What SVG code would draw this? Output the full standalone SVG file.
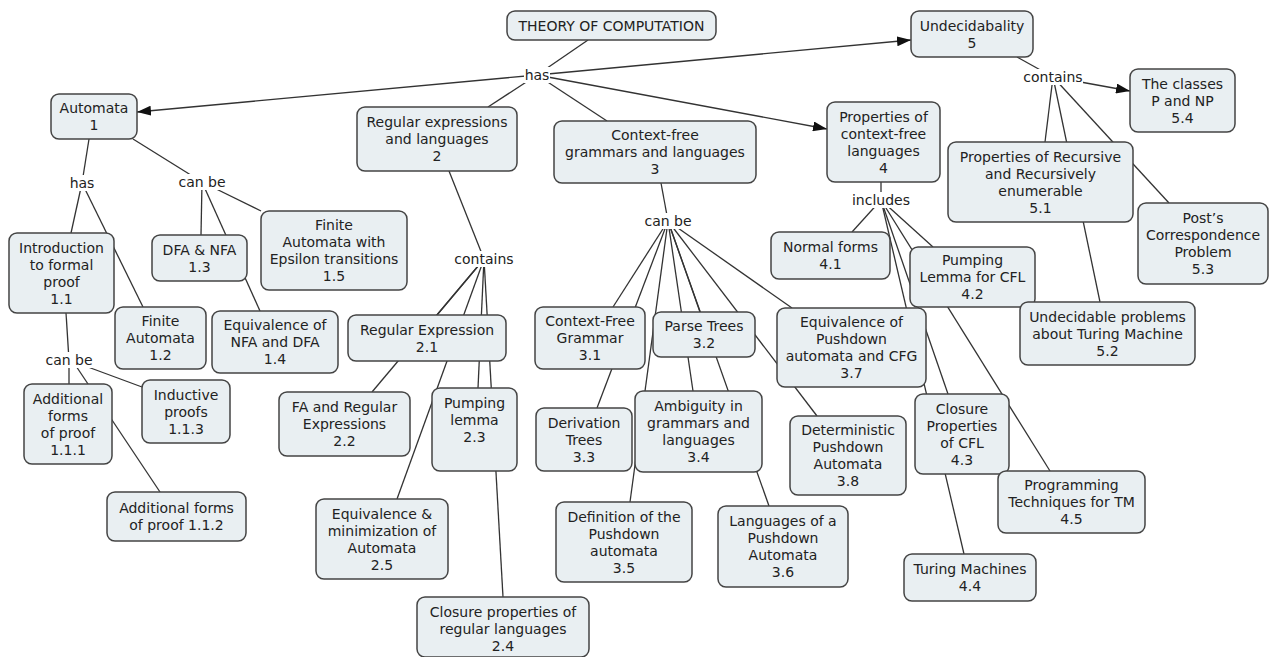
<svg xmlns="http://www.w3.org/2000/svg" width="1273" height="657" viewBox="0 0 1273 657">
<defs>
<marker id="arr" viewBox="0 0 14 10" refX="14" refY="5" markerWidth="14" markerHeight="10" markerUnits="userSpaceOnUse" orient="auto"><path d="M0,0 L14,5 L0,10 z" fill="#111"/></marker>
<style>
.c{stroke:#333;stroke-width:1.3;fill:none}
.b{fill:#e9eff2;stroke:#444;stroke-width:1.5}
text{font-family:"DejaVu Sans",Verdana,sans-serif;font-size:14px;fill:#222;text-anchor:middle}
.lb{fill:#fff}
</style>
</defs>
<rect width="1273" height="657" fill="#fff"/>
<g id="connectors">
<line class="c" x1="588" y1="40" x2="537" y2="75"/>
<line class="c" x1="537" y1="75" x2="137" y2="112" marker-end="url(#arr)"/>
<line class="c" x1="537" y1="75" x2="488" y2="107"/>
<line class="c" x1="537" y1="75" x2="607" y2="121"/>
<line class="c" x1="537" y1="75" x2="827" y2="129" marker-end="url(#arr)"/>
<line class="c" x1="537" y1="75" x2="911" y2="40" marker-end="url(#arr)"/>
<line class="c" x1="89" y1="139" x2="82" y2="183"/>
<line class="c" x1="82" y1="183" x2="71" y2="233"/>
<line class="c" x1="82" y1="183" x2="143" y2="307"/>
<line class="c" x1="133" y1="139" x2="202" y2="182"/>
<line class="c" x1="202" y1="182" x2="201" y2="235"/>
<line class="c" x1="202" y1="182" x2="260" y2="311"/>
<line class="c" x1="202" y1="182" x2="261" y2="211"/>
<line class="c" x1="66" y1="313" x2="69" y2="360"/>
<line class="c" x1="69" y1="360" x2="69" y2="384"/>
<line class="c" x1="72" y1="360" x2="160" y2="492"/>
<line class="c" x1="69" y1="360" x2="142" y2="387"/>
<line class="c" x1="449" y1="171" x2="484" y2="259"/>
<line class="c" x1="484" y1="259" x2="437" y2="315"/>
<line class="c" x1="484" y1="259" x2="372" y2="392"/>
<line class="c" x1="484" y1="259" x2="397" y2="499"/>
<line class="c" x1="484" y1="259" x2="478" y2="388"/>
<line class="c" x1="484" y1="259" x2="503" y2="597"/>
<line class="c" x1="661" y1="183" x2="668" y2="221"/>
<line class="c" x1="668" y1="221" x2="613" y2="307"/>
<line class="c" x1="668" y1="221" x2="597" y2="408"/>
<line class="c" x1="668" y1="221" x2="630" y2="502"/>
<line class="c" x1="668" y1="221" x2="693" y2="391"/>
<line class="c" x1="668" y1="221" x2="700" y2="312"/>
<line class="c" x1="668" y1="221" x2="769" y2="506"/>
<line class="c" x1="668" y1="221" x2="817" y2="416"/>
<line class="c" x1="668" y1="221" x2="792" y2="308"/>
<line class="c" x1="881" y1="182" x2="881" y2="200"/>
<line class="c" x1="881" y1="200" x2="852" y2="232"/>
<line class="c" x1="881" y1="200" x2="933" y2="247"/>
<line class="c" x1="881" y1="200" x2="948" y2="394"/>
<line class="c" x1="881" y1="200" x2="964" y2="554"/>
<line class="c" x1="881" y1="200" x2="1050" y2="471"/>
<line class="c" x1="1017" y1="57" x2="1053" y2="77"/>
<line class="c" x1="1053" y1="77" x2="1130" y2="91" marker-end="url(#arr)"/>
<line class="c" x1="1053" y1="77" x2="1045" y2="142"/>
<line class="c" x1="1053" y1="77" x2="1100" y2="302"/>
<line class="c" x1="1053" y1="77" x2="1169" y2="203"/>
</g>
<g id="link-has"><rect class="lb" x="524" y="67" width="26" height="16"/><text x="537" y="80">has</text></g>
<g id="link-has-1"><rect class="lb" x="69" y="175" width="26" height="16"/><text x="82" y="188">has</text></g>
<g id="link-canbe-1"><rect class="lb" x="178" y="174" width="48" height="16"/><text x="202" y="187">can be</text></g>
<g id="link-canbe-11"><rect class="lb" x="45" y="352" width="48" height="16"/><text x="69" y="365">can be</text></g>
<g id="link-contains-2"><rect class="lb" x="454" y="251" width="60" height="16"/><text x="484" y="264">contains</text></g>
<g id="link-canbe-3"><rect class="lb" x="644" y="213" width="48" height="16"/><text x="668" y="226">can be</text></g>
<g id="link-includes-4"><rect class="lb" x="852" y="192" width="58" height="16"/><text x="881" y="205">includes</text></g>
<g id="link-contains-5"><rect class="lb" x="1023" y="69" width="60" height="16"/><text x="1053" y="82">contains</text></g>

<g id="n0"><rect class="b" x="507" y="11" width="209" height="29" rx="8"/><text x="611.5" y="30.5">THEORY OF COMPUTATION</text></g>
<g id="n1"><rect class="b" x="51" y="94" width="86" height="45" rx="8"/><text x="94" y="113"><tspan x="94">Automata</tspan><tspan x="94" dy="17">1</tspan></text></g>
<g id="n1-1"><rect class="b" x="9" y="233" width="105" height="80" rx="8"/><text x="61.5" y="252.5"><tspan x="61.5">Introduction</tspan><tspan x="61.5" dy="17">to formal</tspan><tspan x="61.5" dy="17">proof</tspan><tspan x="61.5" dy="17">1.1</tspan></text></g>
<g id="n1-1-1"><rect class="b" x="24" y="384" width="88" height="80" rx="8"/><text x="68" y="403.5"><tspan x="68">Additional</tspan><tspan x="68" dy="17">forms</tspan><tspan x="68" dy="17">of proof</tspan><tspan x="68" dy="17">1.1.1</tspan></text></g>
<g id="n1-1-2"><rect class="b" x="107" y="492" width="139" height="49" rx="8"/><text x="176.5" y="513"><tspan x="176.5">Additional forms</tspan><tspan x="176.5" dy="17">of proof 1.1.2</tspan></text></g>
<g id="n1-1-3"><rect class="b" x="142" y="380" width="88" height="63" rx="8"/><text x="186" y="399.5"><tspan x="186">Inductive</tspan><tspan x="186" dy="17">proofs</tspan><tspan x="186" dy="17">1.1.3</tspan></text></g>
<g id="n1-2"><rect class="b" x="115" y="307" width="91" height="62" rx="8"/><text x="160.5" y="326"><tspan x="160.5">Finite</tspan><tspan x="160.5" dy="17">Automata</tspan><tspan x="160.5" dy="17">1.2</tspan></text></g>
<g id="n1-3"><rect class="b" x="152" y="235" width="95" height="46" rx="8"/><text x="199.5" y="254.5"><tspan x="199.5">DFA &amp; NFA</tspan><tspan x="199.5" dy="17">1.3</tspan></text></g>
<g id="n1-4"><rect class="b" x="212" y="311" width="126" height="62" rx="8"/><text x="275" y="330"><tspan x="275">Equivalence of</tspan><tspan x="275" dy="17">NFA and DFA</tspan><tspan x="275" dy="17">1.4</tspan></text></g>
<g id="n1-5"><rect class="b" x="261" y="211" width="146" height="79" rx="8"/><text x="334" y="230"><tspan x="334">Finite</tspan><tspan x="334" dy="17">Automata with</tspan><tspan x="334" dy="17">Epsilon transitions</tspan><tspan x="334" dy="17">1.5</tspan></text></g>
<g id="n2"><rect class="b" x="357" y="107" width="160" height="64" rx="8"/><text x="437" y="127"><tspan x="437">Regular expressions</tspan><tspan x="437" dy="17">and languages</tspan><tspan x="437" dy="17">2</tspan></text></g>
<g id="n2-1"><rect class="b" x="348" y="315" width="158" height="46" rx="8"/><text x="427" y="334.5"><tspan x="427">Regular Expression</tspan><tspan x="427" dy="17">2.1</tspan></text></g>
<g id="n2-2"><rect class="b" x="279" y="392" width="131" height="64" rx="8"/><text x="344.5" y="412"><tspan x="344.5">FA and Regular</tspan><tspan x="344.5" dy="17">Expressions</tspan><tspan x="344.5" dy="17">2.2</tspan></text></g>
<g id="n2-3"><rect class="b" x="432" y="388" width="85" height="83" rx="8"/><text x="474.5" y="408"><tspan x="474.5">Pumping</tspan><tspan x="474.5" dy="17">lemma</tspan><tspan x="474.5" dy="17">2.3</tspan></text></g>
<g id="n2-4"><rect class="b" x="417" y="597" width="172" height="60" rx="8"/><text x="503" y="617"><tspan x="503">Closure properties of</tspan><tspan x="503" dy="17">regular languages</tspan><tspan x="503" dy="17">2.4</tspan></text></g>
<g id="n2-5"><rect class="b" x="316" y="499" width="132" height="80" rx="8"/><text x="382" y="518.5"><tspan x="382">Equivalence &amp;</tspan><tspan x="382" dy="17">minimization of</tspan><tspan x="382" dy="17">Automata</tspan><tspan x="382" dy="17">2.5</tspan></text></g>
<g id="n3"><rect class="b" x="554" y="121" width="202" height="62" rx="8"/><text x="655" y="140"><tspan x="655">Context-free</tspan><tspan x="655" dy="17">grammars and languages</tspan><tspan x="655" dy="17">3</tspan></text></g>
<g id="n3-1"><rect class="b" x="535" y="307" width="110" height="62" rx="8"/><text x="590" y="326"><tspan x="590">Context-Free</tspan><tspan x="590" dy="17">Grammar</tspan><tspan x="590" dy="17">3.1</tspan></text></g>
<g id="n3-2"><rect class="b" x="653" y="312" width="102" height="45" rx="8"/><text x="704" y="331"><tspan x="704">Parse Trees</tspan><tspan x="704" dy="17">3.2</tspan></text></g>
<g id="n3-3"><rect class="b" x="536" y="408" width="96" height="63" rx="8"/><text x="584" y="427.5"><tspan x="584">Derivation</tspan><tspan x="584" dy="17">Trees</tspan><tspan x="584" dy="17">3.3</tspan></text></g>
<g id="n3-4"><rect class="b" x="635" y="391" width="127" height="81" rx="8"/><text x="698.5" y="411"><tspan x="698.5">Ambiguity in</tspan><tspan x="698.5" dy="17">grammars and</tspan><tspan x="698.5" dy="17">languages</tspan><tspan x="698.5" dy="17">3.4</tspan></text></g>
<g id="n3-5"><rect class="b" x="556" y="502" width="136" height="80" rx="8"/><text x="624" y="521.5"><tspan x="624">Definition of the</tspan><tspan x="624" dy="17">Pushdown</tspan><tspan x="624" dy="17">automata</tspan><tspan x="624" dy="17">3.5</tspan></text></g>
<g id="n3-6"><rect class="b" x="718" y="506" width="130" height="81" rx="8"/><text x="783" y="526"><tspan x="783">Languages of a</tspan><tspan x="783" dy="17">Pushdown</tspan><tspan x="783" dy="17">Automata</tspan><tspan x="783" dy="17">3.6</tspan></text></g>
<g id="n3-7"><rect class="b" x="777" y="308" width="149" height="79" rx="8"/><text x="851.5" y="327"><tspan x="851.5">Equivalence of</tspan><tspan x="851.5" dy="17">Pushdown</tspan><tspan x="851.5" dy="17">automata and CFG</tspan><tspan x="851.5" dy="17">3.7</tspan></text></g>
<g id="n3-8"><rect class="b" x="790" y="416" width="116" height="79" rx="8"/><text x="848" y="435"><tspan x="848">Deterministic</tspan><tspan x="848" dy="17">Pushdown</tspan><tspan x="848" dy="17">Automata</tspan><tspan x="848" dy="17">3.8</tspan></text></g>
<g id="n4"><rect class="b" x="827" y="102" width="113" height="80" rx="8"/><text x="883.5" y="121.5"><tspan x="883.5">Properties of</tspan><tspan x="883.5" dy="17">context-free</tspan><tspan x="883.5" dy="17">languages</tspan><tspan x="883.5" dy="17">4</tspan></text></g>
<g id="n4-1"><rect class="b" x="771" y="232" width="119" height="47" rx="8"/><text x="830.5" y="252"><tspan x="830.5">Normal forms</tspan><tspan x="830.5" dy="17">4.1</tspan></text></g>
<g id="n4-2"><rect class="b" x="910" y="247" width="125" height="60" rx="8"/><text x="972.5" y="265"><tspan x="972.5">Pumping</tspan><tspan x="972.5" dy="17">Lemma for CFL</tspan><tspan x="972.5" dy="17">4.2</tspan></text></g>
<g id="n4-3"><rect class="b" x="915" y="394" width="94" height="80" rx="8"/><text x="962" y="413.5"><tspan x="962">Closure</tspan><tspan x="962" dy="17">Properties</tspan><tspan x="962" dy="17">of CFL</tspan><tspan x="962" dy="17">4.3</tspan></text></g>
<g id="n4-4"><rect class="b" x="904" y="554" width="132" height="47" rx="8"/><text x="970" y="574"><tspan x="970">Turing Machines</tspan><tspan x="970" dy="17">4.4</tspan></text></g>
<g id="n4-5"><rect class="b" x="998" y="471" width="147" height="62" rx="8"/><text x="1071.5" y="490"><tspan x="1071.5">Programming</tspan><tspan x="1071.5" dy="17">Techniques for TM</tspan><tspan x="1071.5" dy="17">4.5</tspan></text></g>
<g id="n5"><rect class="b" x="911" y="11" width="122" height="46" rx="8"/><text x="972" y="30.5"><tspan x="972">Undecidabality</tspan><tspan x="972" dy="17">5</tspan></text></g>
<g id="n5-1"><rect class="b" x="948" y="142" width="185" height="80" rx="8"/><text x="1040.5" y="161.5"><tspan x="1040.5">Properties of Recursive</tspan><tspan x="1040.5" dy="17">and Recursively</tspan><tspan x="1040.5" dy="17">enumerable</tspan><tspan x="1040.5" dy="17">5.1</tspan></text></g>
<g id="n5-2"><rect class="b" x="1020" y="302" width="175" height="63" rx="8"/><text x="1107.5" y="321.5"><tspan x="1107.5">Undecidable problems</tspan><tspan x="1107.5" dy="17">about Turing Machine</tspan><tspan x="1107.5" dy="17">5.2</tspan></text></g>
<g id="n5-3"><rect class="b" x="1138" y="203" width="130" height="81" rx="8"/><text x="1203" y="223"><tspan x="1203">Post’s</tspan><tspan x="1203" dy="17">Correspondence</tspan><tspan x="1203" dy="17">Problem</tspan><tspan x="1203" dy="17">5.3</tspan></text></g>
<g id="n5-4"><rect class="b" x="1130" y="69" width="105" height="63" rx="8"/><text x="1182.5" y="88.5"><tspan x="1182.5">The classes</tspan><tspan x="1182.5" dy="17">P and NP</tspan><tspan x="1182.5" dy="17">5.4</tspan></text></g>
</svg>
